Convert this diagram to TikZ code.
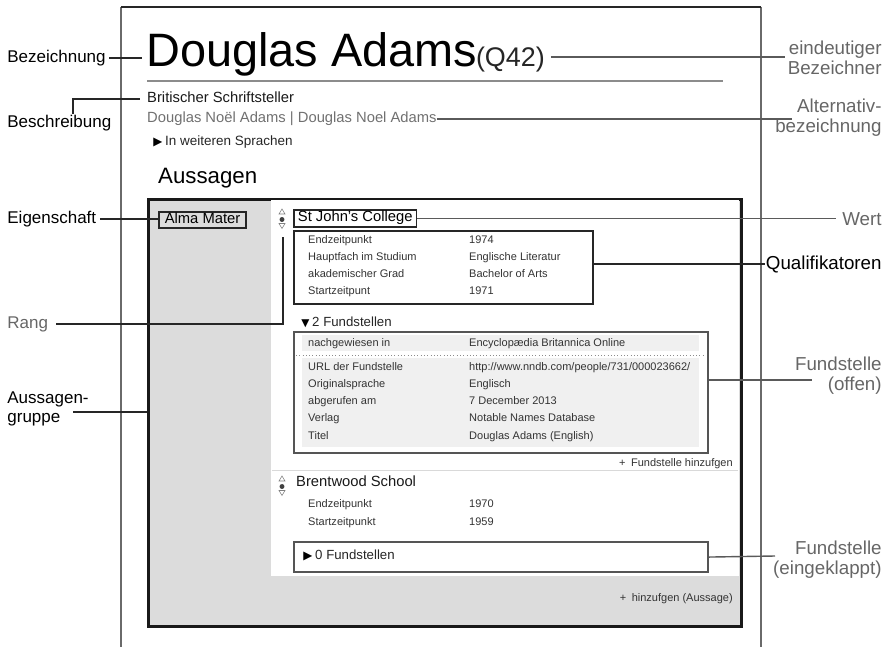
\documentclass[tikz,border=0pt]{standalone}
\usepackage{fontspec}
\setmainfont{Liberation Sans}
\newfontfamily\symfont{DejaVu Sans}
\usepackage{xcolor}
\usepackage{tikz}
\usetikzlibrary{calc,positioning}
\definecolor{groupgray}{HTML}{DCDCDC}
\definecolor{refgray}{HTML}{F0F0F0}
\definecolor{labelgray}{HTML}{666666}
\definecolor{linkgray}{HTML}{5A5A5A}
\definecolor{pagegray}{HTML}{6A6A6A}
\definecolor{aliasgray}{HTML}{707070}
\definecolor{refborder}{HTML}{555555}
\tikzset{
	rankicon/.pic={
		\draw[black!50, line width=0.5pt] (-3,-5.5) -- (3,-5.5) -- (0,-10.5) -- cycle;
		\fill[black!75] (0,0) circle (2.1pt);
		\draw[black!50, line width=0.5pt] (-3,4) -- (3,4) -- (0,9) -- cycle;
	}
}

\begin{document}
\begin{tikzpicture}[x=0.03cm, y=-0.03cm,
	lbl/.style={font=\fontsize{14.5}{16.2}\selectfont, inner sep=1pt, anchor=west},
	rlbl/.style={font=\fontsize{16}{17}\selectfont, inner sep=1pt, text=labelgray},
	link/.style={draw=black!85, line width=1.3pt},
	glink/.style={draw=linkgray, line width=1.2pt},
	txt/.style={anchor=west, inner sep=0pt, text height=0.72em, text depth=0.2em},
	small/.style={txt, font=\fontsize{9.4}{11}\selectfont, text=black!80},
	medium/.style={txt, font=\fontsize{12.6}{15}\selectfont},
	count/.style={txt, font=\fontsize{11.3}{13}\selectfont, text=black!85},
	tri/.style={txt, font=\symfont\fontsize{10}{11}\selectfont},
	valuebox/.style={draw=black!85, line width=1.6pt, inner xsep=4pt, inner ysep=2.6pt, anchor=west, font=\fontsize{12.6}{15}\selectfont, text height=0.72em, text depth=0.2em},
	refbox/.style={draw=refborder, line width=1.8pt, fill=white, anchor=north west, inner sep=0pt, minimum width=12.42cm}]
	\useasboundingbox (0,0) rectangle (884,647);
	\draw[pagegray, line width=1.2pt] (121,647) -- (121,7);
	\draw[pagegray, line width=1.2pt] (761,7) -- (761,647);
	\draw[black!85, line width=2pt] (121,7) -- (761,7);
	\node[anchor=base west, inner sep=0pt, font=\fontsize{40}{48}\selectfont] (title) at (146,67) {Douglas Adams};
	\node[anchor=base west, inner sep=0pt, font=\fontsize{23}{28}\selectfont, text=black!85] (qid) at ($(title.base east)+(-1.5,0)$) {(Q42)};
	\draw[black!45, line width=1.2pt] (147,81) -- (723,81);
	\node[medium, text=black!90] (descr) at (147,99) {Britischer Schriftsteller};
	\node[medium, text=aliasgray] (aliases) at (147,119) {Douglas Noël Adams | Douglas Noel Adams};
	\node[txt, font=\fontsize{11.5}{14}\selectfont, text=black!85] (langs) at (165,142) {In weiteren Sprachen};
	\node[tri, left=2pt of langs] (langsarrow) {▶};
	\node[txt, font=\fontsize{19}{23}\selectfont] (stmts) at (158,180) {Aussagen};
	\node[draw=black!90, line width=2.2pt, fill=groupgray, anchor=north west, inner sep=0pt, minimum width=17.79cm, minimum height=12.81cm] (group) at (147,198) {};
	\fill[white] (271,199.5) rectangle (738.5,576);
	\draw[black!15, line width=0.8pt] (272,470) -- (738,470);
	\node[valuebox, inner xsep=5pt] (prop) at (158,220) {Alma Mater};
	\pic at (282,219.5) {rankicon};
	\node[valuebox, fill=white, inner xsep=3.4pt] (val1) at (293,218.5) {St John's College};
	\node[draw=black!85, line width=1.6pt, anchor=north west, inner sep=0pt, minimum width=8.97cm, minimum height=2.19cm] (quals) at (293,230) {};
	\node[small] (q1k) at (308,240) {Endzeitpunkt};
	\node[small] (q1v) at (469,240) {1974};
	\node[small] (q2k) at (308,257) {Hauptfach im Studium};
	\node[small] (q2v) at (469,257) {Englische Literatur};
	\node[small] (q3k) at (308,274) {akademischer Grad};
	\node[small] (q3v) at (469,274) {Bachelor of Arts};
	\node[small] (q4k) at (308,291) {Startzeitpunt};
	\node[small] (q4v) at (469,291) {1971};
	\node[count] (refcount) at (312,323) {2 Fundstellen};
	\node[tri, font=\symfont\fontsize{9}{10}\selectfont, left=2pt of refcount] (refarrow) {▼};
	\node[refbox, minimum height=3.63cm] (refs) at (293,331) {};
	\fill[refgray] (302,335) rectangle (699,351);
	\fill[refgray] (302,358) rectangle (699,447);
	\draw[black!45, dotted, line width=0.8pt] (296,355) -- (704,355);
	\node[small] (r1k) at (308,343) {nachgewiesen in};
	\node[small] (r1v) at (469,343) {Encyclopædia Britannica Online};
	\node[small] (r2k) at (308,367) {URL der Fundstelle};
	\node[small] (r2v) at (469,367) {http://www.nndb.com/people/731/000023662/};
	\node[small] (r3k) at (308,384) {Originalsprache};
	\node[small] (r3v) at (469,384) {Englisch};
	\node[small] (r4k) at (308,401) {abgerufen am};
	\node[small] (r4v) at (469,401) {7 December 2013};
	\node[small] (r5k) at (308,418) {Verlag};
	\node[small] (r5v) at (469,418) {Notable Names Database};
	\node[small] (r6k) at (308,436) {Titel};
	\node[small] (r6v) at (469,436) {Douglas Adams (English)};
	\node[small, anchor=east] (addref) at (733,463) {+\enspace Fundstelle hinzufgen};
	\pic at (282,486.5) {rankicon};
	\node[medium, text=black!90] (val2) at (296,483) {Brentwood School};
	\node[small] (b1k) at (308,504) {Endzeitpunkt};
	\node[small] (b1v) at (469,504) {1970};
	\node[small] (b2k) at (308,522) {Startzeitpunkt};
	\node[small] (b2v) at (469,522) {1959};
	\node[refbox, minimum height=0.9cm] (collapsed) at (293,541) {};
	\node[count] (norefs) at (315,556) {0 Fundstellen};
	\node[tri, left=2pt of norefs] (norefsarrow) {▶};
	\node[small, anchor=east] (addstmt) at (733,598) {+\enspace hinzufgen (Aussage)};
	\node[lbl] (namelbl) at (6,58) {Bezeichnung};
	\draw[link, shorten <=2pt, shorten >=3pt] (namelbl) -- (namelbl -| title.west);
	\node[lbl] (desclbl) at (6,123) {Beschreibung};
	\coordinate (descbend) at (73,99);
	\draw[link, shorten >=6pt] (descbend |- desclbl.north) -- (descbend) -- (descr.west);
	\node[lbl] (proplbl) at (6,219) {Eigenschaft};
	\draw[link, shorten <=2pt] (proplbl) -- (proplbl -| prop.west);
	\node[lbl, text=labelgray] (ranklbl) at (6,324) {Rang};
	\coordinate (rankbend) at (283,324);
	\coordinate (rankend) at (283,237);
	\draw[link, shorten <=6pt] (ranklbl) -- (rankbend) -- (rankend);
	\node[lbl, align=left] (grplbl) at (6,408.5) {Aussagen-\\gruppe};
	\coordinate (grpstart) at (73,412);
	\draw[link] (grpstart) -- (grpstart -| group.west);
	\node[rlbl, anchor=east, align=right] (uidlbl) at (883,57.5) {eindeutiger\\Bezeichner};
	\coordinate (uidend) at (785,57);
	\draw[glink, shorten <=5pt] (uidend -| qid.east) -- (uidend);
	\node[rlbl, anchor=east, align=right] (altlbl) at (883,118) {Alternativ-\\bezeichnung};
	\coordinate (altend) at (792,119);
	\draw[glink] (aliases.east) -- (aliases.east -| altend);
	\node[rlbl, anchor=east] (wertlbl) at (883,219) {Wert};
	\draw[glink, shorten >=4pt] (val1) -- (val1 -| wertlbl.west);
	\node[rlbl, anchor=east, text=black] (qlbl) at (883,264) {Qualifikatoren};
	\draw[link] (qlbl.west -| quals.east) -- (qlbl.west);
	\node[rlbl, anchor=east, align=right] (openlbl) at (883,375.5) {Fundstelle\\(offen)};
	\coordinate (openend) at (812,380);
	\draw[glink] (openend -| refs.east) -- (openend);
	\node[rlbl, anchor=east, align=right] (closedlbl) at (883,560) {Fundstelle\\(eingeklappt)};
	\coordinate (closedend) at (775,556);
	\draw[glink] (collapsed.east) -- (closedend);
\end{tikzpicture}
\end{document}
